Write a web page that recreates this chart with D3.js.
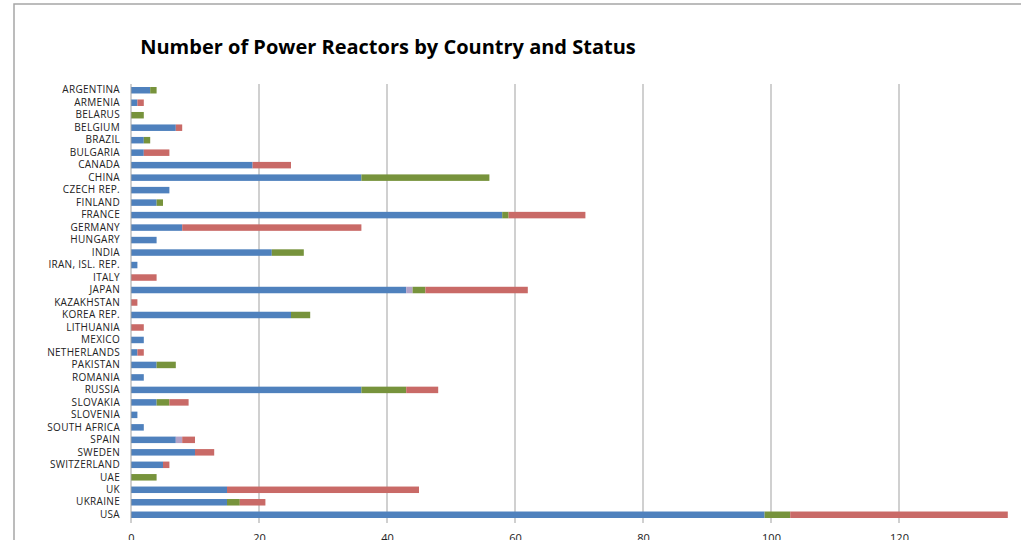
<!DOCTYPE html>
<html>
<head>
<meta charset="utf-8">
<script src="https://cdn.jsdelivr.net/npm/d3@7"></script>
<style>
  body { margin: 0; background: #fff; }
  svg { display: block; }
</style>
</head>
<body>
<div id="chart"></div>
<script>
var countries = ["ARGENTINA", "ARMENIA", "BELARUS", "BELGIUM", "BRAZIL", "BULGARIA", "CANADA",
  "CHINA", "CZECH REP.", "FINLAND", "FRANCE", "GERMANY", "HUNGARY", "INDIA", "IRAN, ISL. REP.",
  "ITALY", "JAPAN", "KAZAKHSTAN", "KOREA REP.", "LITHUANIA", "MEXICO", "NETHERLANDS", "PAKISTAN",
  "ROMANIA", "RUSSIA", "SLOVAKIA", "SLOVENIA", "SOUTH AFRICA", "SPAIN", "SWEDEN", "SWITZERLAND",
  "UAE", "UK", "UKRAINE", "USA"];

// reactor counts per status, same order as countries
var operational       = [3, 1, 0, 7, 2, 2, 19, 36, 6, 4, 58, 8, 4, 22, 1, 0, 43, 0, 25, 0, 2, 1, 4, 2, 36, 4, 1, 2, 7, 10, 5, 0, 15, 15, 99];
var longTermShutdown  = [0, 0, 0, 0, 0, 0, 0, 0, 0, 0, 0, 0, 0, 0, 0, 0, 1, 0, 0, 0, 0, 0, 0, 0, 0, 0, 0, 0, 1, 0, 0, 0, 0, 0, 0];
var underConstruction = [1, 0, 2, 0, 1, 0, 0, 20, 0, 1, 1, 0, 0, 5, 0, 0, 2, 0, 3, 0, 0, 0, 3, 0, 7, 2, 0, 0, 0, 0, 0, 4, 0, 2, 4];
var shutDown          = [0, 1, 0, 1, 0, 4, 6, 0, 0, 0, 12, 28, 0, 0, 0, 4, 16, 1, 0, 2, 0, 1, 0, 0, 5, 3, 0, 0, 2, 3, 1, 0, 30, 4, 34];

var xTicks = [0, 20, 40, 60, 80, 100, 120];
var seriesKeys = ["operational", "longTerm", "construction", "shutDown"];
var colors = {operational: "#4f81bd", longTerm: "#b3a2c7", construction: "#77933c", shutDown: "#c96a67"};

var width = 1021, height = 540;
var margin = {top: 84, left: 131, bottom: 19};

var svg = d3.select("#chart").append("svg")
    .attr("width", width)
    .attr("height", height);

// chart frame (cropped at right / bottom)
svg.append("rect")
    .attr("x", 14).attr("y", 4)
    .attr("width", 1040).attr("height", 560)
    .attr("fill", "none")
    .attr("stroke", "#a6a6a6")
    .attr("stroke-width", 1.5);

svg.append("text")
    .attr("x", 388)
    .attr("y", 54)
    .attr("text-anchor", "middle")
    .attr("font-family", "'Open Sans', sans-serif")
    .attr("font-weight", "bold")
    .attr("font-size", 20)
    .attr("fill", "#000")
    .text("Number of Power Reactors by Country and Status");

var rows = countries.map(function(c, i) {
  return {country: c, operational: operational[i], longTerm: longTermShutdown[i],
          construction: underConstruction[i], shutDown: shutDown[i]};
});

var x = d3.scaleLinear()
    .domain([0, 140])
    .range([margin.left, margin.left + 896]);

var y = d3.scaleBand()
    .domain(countries)
    .range([margin.top, height - margin.bottom])
    .paddingInner(0.48)
    .paddingOuter(0.24);

// gridlines
svg.append("g").selectAll("line")
    .data(xTicks.slice(1))
    .enter().append("line")
    .attr("x1", function(d) { return x(d); })
    .attr("x2", function(d) { return x(d); })
    .attr("y1", margin.top)
    .attr("y2", height - margin.bottom + 2)
    .attr("stroke", "#c0c0c0")
    .attr("stroke-width", 1.5);

var stack = d3.stack().keys(seriesKeys);
var layers = stack(rows);

svg.append("g").selectAll("g")
    .data(layers)
    .enter().append("g")
    .attr("fill", function(d) { return colors[d.key]; })
  .selectAll("rect")
    .data(function(d) { return d; })
    .enter().append("rect")
    .attr("x", function(d) { return x(d[0]); })
    .attr("y", function(d) { return y(d.data.country); })
    .attr("width", function(d) { return x(d[1]) - x(d[0]); })
    .attr("height", y.bandwidth());

// y axis line
svg.append("line")
    .attr("x1", x(0)).attr("x2", x(0))
    .attr("y1", margin.top)
    .attr("y2", height - margin.bottom + 2)
    .attr("stroke", "#a0a0a0")
    .attr("stroke-width", 1);

var yAxis = d3.axisLeft(y).tickSize(0).tickPadding(11);
svg.append("g")
    .attr("transform", "translate(" + x(0) + ",0)")
    .call(yAxis)
    .call(function(g) { g.select(".domain").remove(); })
    .selectAll("text")
    .attr("font-family", "'Open Sans', sans-serif")
    .attr("font-size", 10)
    .attr("letter-spacing", 0.3)
    .attr("fill", "#222");

var xAxis = d3.axisBottom(x).tickValues(xTicks).tickSize(0).tickPadding(13);
svg.append("g")
    .attr("transform", "translate(0," + (height - margin.bottom) + ")")
    .call(xAxis)
    .call(function(g) { g.select(".domain").remove(); })
    .selectAll("text")
    .attr("font-family", "'Open Sans', sans-serif")
    .attr("font-size", 11)
    .attr("fill", "#222");
</script>
</body>
</html>
